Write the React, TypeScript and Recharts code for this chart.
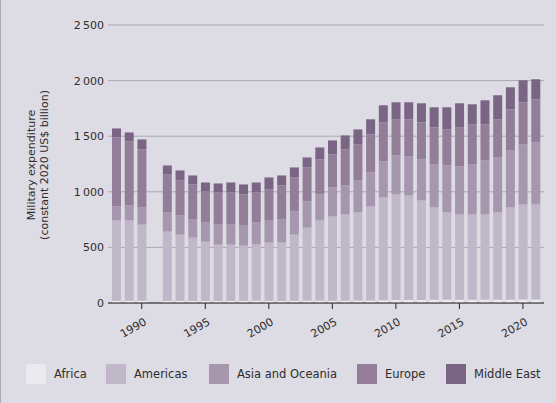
import React from 'react';
import { BarChart, Bar, XAxis, YAxis, CartesianGrid } from 'recharts';

const years = [
  1988, 1989, 1990, 1991, 1992, 1993, 1994, 1995, 1996, 1997, 1998, 1999, 2000, 2001, 2002, 2003, 2004,
  2005, 2006, 2007, 2008, 2009, 2010, 2011, 2012, 2013, 2014, 2015, 2016, 2017, 2018, 2019, 2020, 2021,
];

// billions, constant 2020 US$ (1991 has no data)
const africa = [
  20, 20, 20, null, 18, 20, 18, 18, 18, 18, 18, 20, 18, 18, 20, 20, 20,
  20, 20, 22, 22, 24, 28, 28, 28, 30, 30, 30, 30, 30, 30, 30, 32, 32,
];
const americas = [
  722, 722, 685, null, 624, 595, 570, 534, 507, 507, 498, 505, 525, 525, 595, 658, 722,
  758, 776, 792, 846, 925, 948, 939, 894, 829, 784, 766, 766, 766, 784, 829, 854, 854,
];
const asiaOceania = [
  126, 135, 154, null, 172, 172, 162, 171, 180, 180, 180, 198, 199, 208, 208, 235, 234,
  261, 261, 288, 306, 324, 351, 351, 369, 387, 423, 432, 450, 486, 495, 513, 540, 558,
];
const europe = [
  621, 576, 522, null, 342, 315, 316, 280, 289, 289, 280, 271, 279, 306, 306, 306, 315,
  297, 324, 324, 342, 352, 325, 334, 334, 333, 324, 351, 360, 324, 343, 370, 379, 388,
];
const middleEast = [
  81, 81, 90, null, 81, 90, 81, 81, 81, 90, 90, 90, 108, 90, 90, 90, 108,
  126, 126, 135, 136, 153, 153, 153, 171, 181, 199, 217, 181, 217, 216, 198, 198, 180,
];

const yTicks = [0, 500, 1000, 1500, 2000, 2500];

const series = [
  { key: 'africa', name: 'Africa', color: '#EBEAEF' },
  { key: 'americas', name: 'Americas', color: '#C0B8C8' },
  { key: 'asia', name: 'Asia and Oceania', color: '#A697AE' },
  { key: 'europe', name: 'Europe', color: '#927E99' },
  { key: 'middleEast', name: 'Middle East', color: '#7B6585' },
];

const data = years.map((year, i) => ({
  year,
  africa: africa[i],
  americas: americas[i],
  asia: asiaOceania[i],
  europe: europe[i],
  middleEast: middleEast[i],
}));

const FONT = '"DejaVu Sans", Verdana, sans-serif';
const TEXT = '#2e2e2e';

const YearTick = (props: any) => {
  const { x, y, payload } = props;
  if (payload.value % 5 !== 0) return null;
  return (
    <g transform={`translate(${x},${y})`}>
      <line x1={0} y1={0} x2={0} y2={6} stroke="#222" strokeWidth={1} />
      <text
        x={5.5}
        y={21}
        textAnchor="end"
        transform="rotate(-30 5.5 21)"
        fontSize={11}
        fontFamily={FONT}
        fill={TEXT}
      >
        {payload.value}
      </text>
    </g>
  );
};

const YLabel = () => {
  const cy = 165;
  return (
    <g>
      <text
        transform={`translate(30,${cy}) rotate(-90)`}
        textAnchor="middle"
        dominantBaseline="central"
        fontSize={11}
        fontFamily={FONT}
        fill={TEXT}
      >
        Military expenditure
      </text>
      <text
        transform={`translate(43,${cy}) rotate(-90)`}
        textAnchor="middle"
        dominantBaseline="central"
        fontSize={11}
        fontFamily={FONT}
        fill={TEXT}
      >
        (constant 2020 US$ billion)
      </text>
    </g>
  );
};

// legend item left edges, px from page left
const legendLeft = [26, 106, 209, 357, 446];

const LegendBox = () => (
  <div style={{ position: 'absolute', top: 364, left: 0, width: 556, height: 20 }}>
    {series.map((s, i) => (
      <div
        key={s.key}
        style={{
          position: 'absolute',
          left: legendLeft[i] - 1,
          top: 0,
          display: 'flex',
          alignItems: 'center',
          whiteSpace: 'nowrap',
          fontFamily: FONT,
          fontSize: 11.5,
          color: TEXT,
        }}
      >
        <span style={{ width: 20, height: 20, background: s.color, display: 'inline-block', marginRight: 8 }} />
        <span>{s.name}</span>
      </div>
    ))}
  </div>
);

export default function App() {
  return (
    <div
      style={{
        position: 'absolute',
        top: 0,
        left: 0,
        width: 556,
        height: 403,
        background: '#DDDBE3',
        borderLeft: '1px solid #B3A7BE',
        boxSizing: 'border-box',
      }}
    >
      <BarChart
        width={555}
        height={403}
        data={data}
        margin={{ top: 25, right: 12, bottom: 70, left: 0 }}
      >
        <CartesianGrid vertical={false} stroke="#ABA7B4" />
        <XAxis
          dataKey="year"
          interval={0}
          tick={<YearTick />}
          tickLine={false}
          tickSize={0}
          tickMargin={0}
          height={30}
          padding={{ left: 2, right: 2 }}
          axisLine={{ stroke: '#222' }}
        />
        <YAxis
          domain={[0, 2500]}
          ticks={yTicks}
          width={107}
          axisLine={false}
          tickLine={false}
          tickSize={4}
          tickMargin={0}
          tickFormatter={(v: number) => (v >= 1000 ? `${Math.floor(v / 1000)}\u2009${String(v % 1000).padStart(3, '0')}` : String(v))}
          tick={{ fontSize: 11, fontFamily: FONT, fill: TEXT }}
          label={<YLabel />}
        />
        {series.map((s) => (
          <Bar
            key={s.key}
            dataKey={s.key}
            name={s.name}
            stackId="a"
            fill={s.color}
            barSize={9}
            isAnimationActive={false}
          />
        ))}
      </BarChart>
      <LegendBox />
    </div>
  );
}
